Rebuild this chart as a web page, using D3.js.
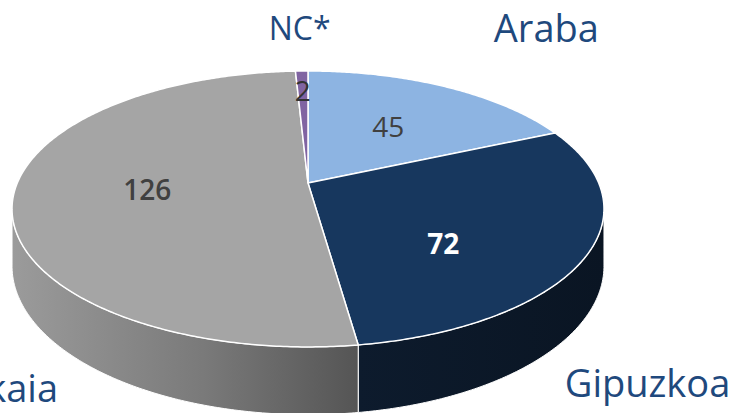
<!DOCTYPE html>
<html>
<head>
<meta charset="utf-8">
<script src="https://cdn.jsdelivr.net/npm/d3@7"></script>
<style>
  html, body { margin: 0; padding: 0; background: #fff; overflow: hidden; }
  svg { display: block; }
</style>
</head>
<body>
<div id="chart"></div>
<script>
// data
var categories = ["Araba", "Gipuzkoa", "Bizkaia", "NC*"];
var values = [45, 72, 126, 2];
var colors = ["#8db4e2", "#17375e", "#a5a5a5", "#8064a2"];

var width = 734, height = 413;

// 3D pie frame (apex of the slices, radii and perspective)
var cx = 308, cy = 183, rx = 290.7, ry = 133.1, persp = 0.188, depth = 55;

var svg = d3.select("#chart")
    .append("svg")
        .attr("width", width)
        .attr("height", height);

var defs = svg.append("defs");

var gGrey = defs.append("linearGradient")
    .attr("id", "sideGrey")
    .attr("gradientUnits", "userSpaceOnUse")
    .attr("x1", 12).attr("x2", 358).attr("y1", 0).attr("y2", 0);
gGrey.append("stop").attr("offset", "0%").attr("stop-color", "#9b9b9b");
gGrey.append("stop").attr("offset", "55%").attr("stop-color", "#7a7a7a");
gGrey.append("stop").attr("offset", "100%").attr("stop-color", "#555555");

var gDark = defs.append("linearGradient")
    .attr("id", "sideDark")
    .attr("gradientUnits", "userSpaceOnUse")
    .attr("x1", 358).attr("x2", 604).attr("y1", 0).attr("y2", 0);
gDark.append("stop").attr("offset", "0%").attr("stop-color", "#0d1b2d");
gDark.append("stop").attr("offset", "100%").attr("stop-color", "#0a1523");

var sideFill = ["#5d7aa0", "url(#sideDark)", "url(#sideGrey)", "#5a4675"];

// project a point of the disk (radius fraction r, angle t clockwise from top)
function proj(r, t, drop) {
    var u = r * Math.sin(t), v = r * Math.cos(t);
    var w = 1 + persp * v;
    return [cx + rx * u / w, cy - ry * v / w + (drop ? depth / w : 0)];
}

function arcPoints(a0, a1, drop) {
    var n = Math.max(2, Math.ceil((a1 - a0) / 0.01));
    return d3.range(n + 1).map(function(i) { return proj(1, a0 + (a1 - a0) * i / n, drop); });
}

var pie = d3.pie().sort(null).value(function(d) { return d; });
var arcs = pie(values);
var line = d3.line();

// visible part of the outer wall
var lo = Math.acos(-persp), hi = 2 * Math.PI - lo;

var sides = svg.append("g");
arcs.forEach(function(d, i) {
    var a0 = Math.max(d.startAngle, lo), a1 = Math.min(d.endAngle, hi);
    if (a1 <= a0) return;
    var top = arcPoints(a0, a1, false);
    var bot = arcPoints(a0, a1, true).reverse();
    sides.append("path")
        .attr("d", line(top.concat(bot)) + "Z")
        .attr("fill", sideFill[i])
        .attr("stroke", "#ffffff")
        .attr("stroke-width", 1)
        .attr("stroke-linejoin", "round");
});

var tops = svg.append("g");
arcs.forEach(function(d, i) {
    var pts = [[cx, cy]].concat(arcPoints(d.startAngle, d.endAngle, false));
    tops.append("path")
        .attr("d", line(pts) + "Z")
        .attr("fill", colors[i])
        .attr("stroke", "#ffffff")
        .attr("stroke-width", 1.5)
        .attr("stroke-linejoin", "round");
});

// value labels
var valueStyle = [
    {fill: "#404040", weight: 400},
    {fill: "#ffffff", weight: 700},
    {fill: "#404040", weight: 600},
    {fill: "#333333", weight: 400}
];
var total = d3.sum(values);
arcs.forEach(function(d, i) {
    var mid = (d.startAngle + d.endAngle) / 2;
    var f = d.value / total < 0.05 ? 0.8 : 0.55;
    var p = proj(f, mid, false);
    var near = -Math.cos(mid) - 0.1;
    if (near > 0) p[1] += 60 * near;
    svg.append("text")
        .attr("x", p[0] - (i === 1 ? 12 : 0))
        .attr("y", p[1])
        .attr("dy", "0.36em")
        .attr("text-anchor", "middle")
        .style("font-family", "'Open Sans', sans-serif")
        .style("font-size", "28px")
        .style("font-weight", valueStyle[i].weight)
        .style("fill", valueStyle[i].fill)
        .text(values[i]);
});

// category labels, placed relative to the pie frame
var catPos = {
    "NC*":      {a: -0.029, b: -1.074, anchor: "middle", size: 32},
    "Araba":    {a: 0.820,  b: -1.059, anchor: "middle", size: 38},
    "Gipuzkoa": {a: 1.168,  b: 1.608,  anchor: "middle", size: 38},
    "Bizkaia":  {a: -0.860, b: 1.645,  anchor: "end",    size: 38}
};
categories.forEach(function(c) {
    var p = catPos[c];
    svg.append("text")
        .attr("x", cx + rx * p.a)
        .attr("y", cy + ry * p.b)
        .attr("text-anchor", p.anchor)
        .style("font-family", "'Open Sans', sans-serif")
        .style("font-size", p.size + "px")
        .style("fill", "#1f497d")
        .text(c);
});
</script>
</body>
</html>
